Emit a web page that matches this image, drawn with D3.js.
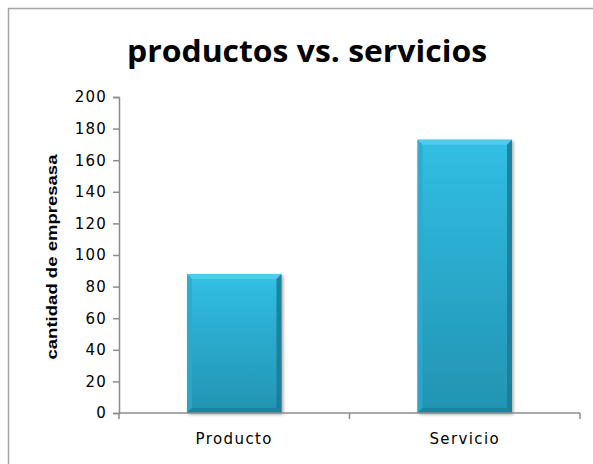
<!DOCTYPE html>
<html>
<head>
<meta charset="utf-8">
<script src="https://cdn.jsdelivr.net/npm/d3@7"></script>
<style>
  html, body { margin: 0; padding: 0; background: #fff; }
  svg { display: block; }
</style>
</head>
<body>
<div id="chart"></div>
<script>
const categories = ["Producto", "Servicio"];
const values = [88, 173];
const yTicks = [0, 20, 40, 60, 80, 100, 120, 140, 160, 180, 200];
const titleText = "productos vs. servicios";
const yLabel = "cantidad de empresasa";

const W = 593, H = 464;
const plot = { left: 119, right: 580, top: 97, bottom: 413 };
const tickFont = "'DejaVu Sans', 'Open Sans', sans-serif";

const svg = d3.select("#chart").append("svg").attr("width", W).attr("height", H);
const defs = svg.append("defs");

const grad = defs.append("linearGradient").attr("id", "barFill")
  .attr("x1", 0).attr("y1", 0).attr("x2", 0).attr("y2", 1);
grad.append("stop").attr("offset", "0%").attr("stop-color", "#31bfe4");
grad.append("stop").attr("offset", "100%").attr("stop-color", "#2393b2");

const shadow = defs.append("filter").attr("id", "shadow")
  .attr("x", "-10%").attr("y", "-10%").attr("width", "130%").attr("height", "130%");
shadow.append("feDropShadow").attr("dx", 1.5).attr("dy", 1.5)
  .attr("stdDeviation", 1.5).attr("flood-color", "#000").attr("flood-opacity", 0.35);

// chart frame
svg.append("rect").attr("x", 8.5).attr("y", 8.5).attr("width", W + 10).attr("height", H + 10)
  .attr("fill", "none").attr("stroke", "#a6a6a6").attr("stroke-width", 1.5);

// title
svg.append("text").attr("x", 307).attr("y", 62).attr("text-anchor", "middle")
  .attr("font-family", "'Open Sans', 'Liberation Sans', sans-serif")
  .attr("font-weight", "bold").attr("font-size", 30)
  .attr("textLength", 360).attr("lengthAdjust", "spacingAndGlyphs")
  .attr("fill", "#000").text(titleText);

const x = d3.scaleBand().domain(categories).range([plot.left, plot.right]).paddingInner(0.59).paddingOuter(0.295);
const y = d3.scaleLinear().domain([0, 200]).range([plot.bottom, plot.top]);

// bars with bevelled edges
const bev = 5;
const bars = svg.append("g").selectAll("g").data(categories).join("g")
  .attr("filter", "url(#shadow)");
bars.each(function(c, i) {
  const g = d3.select(this);
  const x0 = x(c), x1 = x(c) + x.bandwidth();
  const y0 = y(values[i]), y1 = y(0);
  g.append("rect").attr("x", x0).attr("y", y0).attr("width", x1 - x0).attr("height", y1 - y0)
    .attr("fill", "url(#barFill)");
  // top bevel
  g.append("polygon").attr("points", [[x0, y0], [x1, y0], [x1 - bev, y0 + bev], [x0 + bev, y0 + bev]].join(" "))
    .attr("fill", "#52cdef").attr("opacity", 0.9);
  // left bevel
  g.append("polygon").attr("points", [[x0, y0], [x0 + bev, y0 + bev], [x0 + bev, y1 - bev], [x0, y1]].join(" "))
    .attr("fill", "#2ea9cc").attr("opacity", 0.8);
  // right bevel
  g.append("polygon").attr("points", [[x1, y0], [x1, y1], [x1 - bev, y1 - bev], [x1 - bev, y0 + bev]].join(" "))
    .attr("fill", "#1b7a95").attr("opacity", 0.85);
  // bottom bevel
  g.append("polygon").attr("points", [[x0, y1], [x1, y1], [x1 - bev, y1 - bev], [x0 + bev, y1 - bev]].join(" "))
    .attr("fill", "#1c7f9b").attr("opacity", 0.85);
});

// y axis
const yAxis = svg.append("g").attr("transform", `translate(${plot.left},0)`)
  .call(d3.axisLeft(y).tickValues(yTicks).tickSize(6).tickPadding(6));
yAxis.select(".domain").attr("stroke", "#8c8c8c").attr("stroke-width", 1.5);
yAxis.selectAll(".tick line").attr("stroke", "#8c8c8c").attr("stroke-width", 1.5);
yAxis.selectAll(".tick text").attr("font-family", tickFont)
  .attr("font-size", 15).attr("letter-spacing", 1.2).attr("fill", "#000");

// x axis
const xAxis = svg.append("g").attr("transform", `translate(0,${plot.bottom})`)
  .call(d3.axisBottom(x).tickSize(0).tickPadding(20));
xAxis.select(".domain").attr("stroke", "#8c8c8c").attr("stroke-width", 1.5)
  .attr("d", `M${plot.left},0H${plot.right}`);
xAxis.selectAll(".tick text").attr("font-family", tickFont)
  .attr("font-size", 15).attr("letter-spacing", 1.4).attr("fill", "#000");
// category separators
const seps = [plot.left, (x(categories[0]) + x.bandwidth() + x(categories[1])) / 2, plot.right];
xAxis.selectAll("line.sep").data(seps).join("line").attr("class", "sep")
  .attr("x1", d => d).attr("x2", d => d).attr("y1", 0).attr("y2", 6)
  .attr("stroke", "#8c8c8c").attr("stroke-width", 1.5);

// y axis title
svg.append("text").attr("transform", `translate(57,${(plot.top + plot.bottom) / 2 + 2}) rotate(-90)`)
  .attr("text-anchor", "middle")
  .attr("font-family", "'Liberation Sans', sans-serif").attr("font-weight", "bold").attr("font-size", 14)
  .attr("textLength", 205).attr("lengthAdjust", "spacingAndGlyphs")
  .attr("fill", "#000").text(yLabel);
</script>
</body>
</html>
